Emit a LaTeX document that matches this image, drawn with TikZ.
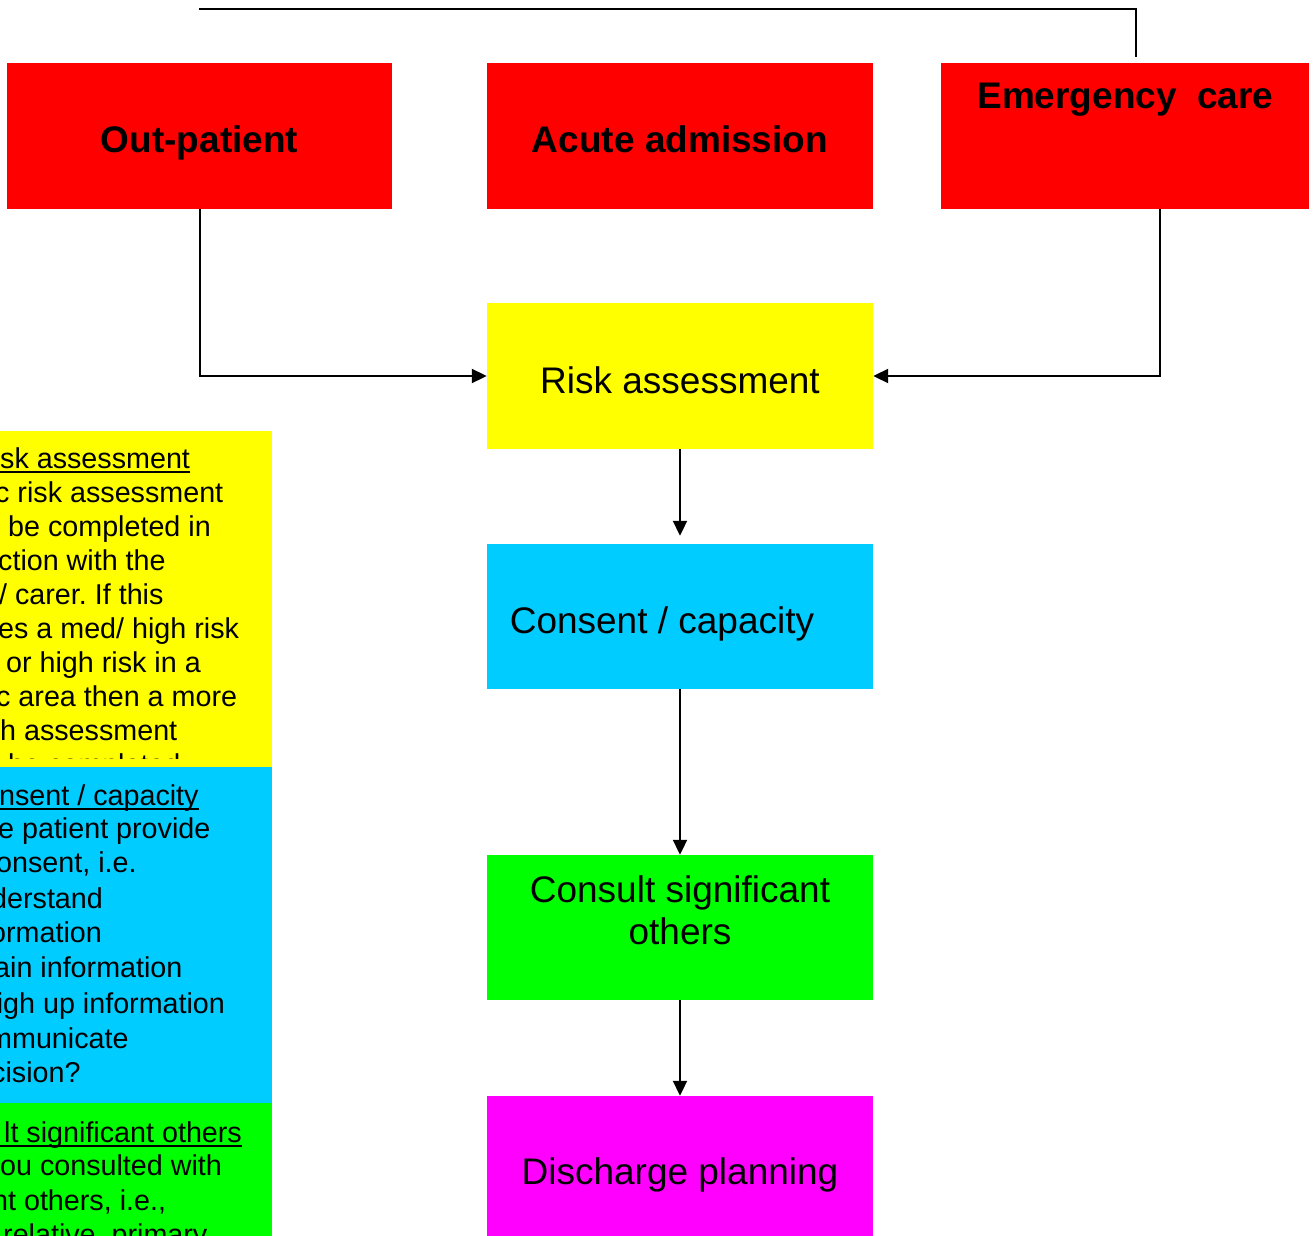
\documentclass[tikz,border=0pt]{standalone}
\usepackage{fontspec}
\setmainfont{Liberation Sans}
\usetikzlibrary{arrows.meta}
\definecolor{cRed}{RGB}{255,0,0}
\definecolor{cYel}{RGB}{255,255,0}
\definecolor{cCyan}{RGB}{0,204,255}
\definecolor{cGreen}{RGB}{0,255,0}
\definecolor{cMag}{RGB}{255,0,255}
\frenchspacing
\begin{document}
\begin{tikzpicture}[x=1pt,y=-1pt,
  box/.style={fill=#1, draw=none, inner sep=0pt, minimum width=386pt, minimum height=146pt},
  panel/.style={fill=#1, draw=none, inner sep=0pt, minimum width=272pt, minimum height=336pt},
  btxt/.style={anchor=base, inner sep=0pt, font=\fontsize{37}{44}\selectfont},
  bbold/.style={btxt, font=\fontsize{37}{44}\selectfont\bfseries},
  ptxt/.style={anchor=base west, inner sep=0pt, font=\fontsize{28.7}{34}\selectfont\frenchspacing},
  uline/.style={line width=2pt},
  conn/.style={line width=2pt, -{Triangle[length=15pt,width=14pt]}},
  plain/.style={line width=2pt}
]
\clip (0,0) rectangle (1314,1236);
\fill[white] (0,0) rectangle (1314,1236);

% top boxes
\node[box=cRed, minimum width=385pt] (out) at (199.5,136) {};
\node[box=cRed] (acute) at (680,136) {};
\node[box=cRed, minimum width=368pt] (emerg) at (1125,136) {};
\node[bbold] (outT) at (199.5,153) {Out-patient};
\node[bbold] (acuteT) at (680,153) {Acute admission};
\node[bbold] (emergT) at (1125.5,109) {Emergency\ \ care};

% flow boxes
\node[box=cYel] (risk) at (680,376) {};
\node[box=cCyan, minimum height=145pt] (cons) at (680,616.5) {};
\node[box=cGreen, minimum height=145pt] (consult) at (680,927.5) {};
\node[box=cMag, minimum height=154pt] (disch) at (680,1173) {};
\node[btxt] (riskT) at (680,393) {Risk assessment};
\node[btxt] (consT) at (662,633) {Consent / capacity};
\node[btxt] (consultT1) at (680,902) {Consult significant};
\node[btxt] (consultT2) at (680,944) {others};
\node[btxt] (dischT) at (680,1184) {Discharge planning};

% connectors
\coordinate (tl) at (199,9);
\coordinate (tr) at (1136,57);
\draw[plain] (tl) -| (tr);
\coordinate (emS) at (1160,209);
\draw[conn] (out.south) |- (risk.west);
\draw[conn] (emS) |- (risk.east);
\draw[conn, shorten >=8pt] (risk.south) -- (cons.north);
\draw[conn] (cons.south) -- (consult.north);
\draw[conn] (consult.south) -- (disch.north);

% left panels
\node[panel=cYel] (pY) at (136,599) {};
\node[panel=cCyan] (pC) at (136,935) {};
\node[panel=cGreen, minimum height=150pt] (pG) at (136,1178) {};

\begin{scope}
\clip (0,431) rectangle (272,758);
\node[ptxt] (y1) at (0,468) {\llap{Ri}sk assessment};
\draw[uline] ([yshift=-4pt]y1.base east) -- ++(-300,0);
\node[ptxt] (y2) at (-5,502) {\llap{Generi}c risk assessment};
\node[ptxt] (y3) at (8,536) {\llap{should }be completed in};
\node[ptxt] (y4) at (-2,570) {\llap{conjun}ction with the};
\node[ptxt] (y5) at (-1,604) {\llap{patient }/ carer. If this};
\node[ptxt] (y6) at (-2,638) {\llap{indicat}es a med/ high risk};
\node[ptxt] (y7) at (6,672) {\llap{overall }or high risk in a};
\node[ptxt] (y8) at (-4,706) {\llap{specifi}c area then a more};
\node[ptxt] (y9) at (0,740) {\llap{in-dept}h assessment};
\node[ptxt] (y10) at (8,774) {\llap{should }be completed.};
\end{scope}

\begin{scope}
\clip (0,767) rectangle (272,1103);
\node[ptxt] (c1) at (-1,805) {\llap{Co}nsent / capacity};
\draw[uline] ([yshift=-4pt]c1.base east) -- ++(-300,0);
\node[ptxt] (c2) at (-2,838) {\llap{Can th}e patient provide};
\node[ptxt] (c3) at (-4,872) {\llap{valid c}onsent, i.e.};
\node[ptxt] (c4) at (-9,908) {\llap{un}derstand};
\node[ptxt] (c5) at (-10,942) {\llap{inf}ormation};
\node[ptxt] (c6) at (-6,977) {\llap{ret}ain information};
\node[ptxt] (c7) at (3,1013) {\llap{wei}gh up information};
\node[ptxt] (c8) at (-12,1048) {\llap{co}mmunicate};
\node[ptxt] (c9) at (-9,1082) {\llap{de}cision?};
\end{scope}

\begin{scope}
\clip (0,1103) rectangle (272,1236);
\node[ptxt] (g1) at (4,1142) {\llap{Consu\kern3pt}lt significant others};
\draw[uline] ([yshift=-4pt]g1.base east) -- ++(-300,0);
\node[ptxt] (g2) at (0,1175) {\llap{Have y}ou consulted with};
\node[ptxt] (g3) at (-8,1210) {\llap{significa}nt others, i.e.,};
\node[ptxt] (g4) at (3,1244) {relative, primary};
\end{scope}
\end{tikzpicture}
\end{document}
